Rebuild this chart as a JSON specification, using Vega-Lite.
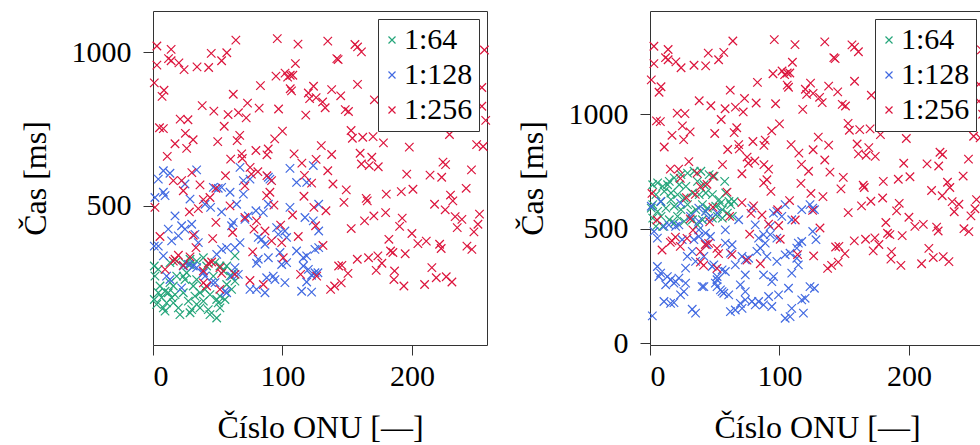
{
"$schema":"https://vega.github.io/schema/vega-lite/v6.json",
"padding":{"left":18,"top":10,"right":0,"bottom":0},
"config":{
 "font":"Liberation Serif",
 "view":{"stroke":"#333","strokeWidth":1},
 "axis":{"grid":false,"domain":false,"tickColor":"#333","tickSize":10,"tickWidth":1,"labelFontSize":30,"titleFontSize":32,"labelColor":"#000","titleColor":"#000","titleFontWeight":"normal","labelFont":"Liberation Serif","titleFont":"Liberation Serif","format":"d"},
 "legend":{"labelFont":"Liberation Serif","labelFontSize":30,"labelColor":"#000","fillColor":"#fff","strokeColor":"#333","strokeWidth":1,"padding":6,"rowPadding":5,"offset":8,"symbolType":"M-1,-1L1,1M-1,1L1,-1","symbolSize":49,"symbolStrokeWidth":1.2,"symbolOffset":-7,"labelAlign":"left","labelOffset":-3,"labelBaseline":"middle","labelExpr":"datum.label == '1:64' ? '\u2002\u00a01:64\u00a0' : datum.label + '\u00a0'"},
 "concat":{"spacing":22}
},
"datasets":{
"a":[
{"g":"1:64","x":1,"y":304},{"g":"1:64","x":4.1,"y":293},{"g":"1:64","x":5.4,"y":239},{"g":"1:64","x":9.3,"y":222},{"g":"1:64","x":13.1,"y":250},{"g":"1:64","x":11.8,"y":217},{"g":"1:64","x":17,"y":211},{"g":"1:64","x":18.3,"y":271},{"g":"1:64","x":23.4,"y":271},{"g":"1:64","x":24.7,"y":260},{"g":"1:64","x":26,"y":282},{"g":"1:64","x":28.6,"y":309},{"g":"1:64","x":33.7,"y":320},{"g":"1:64","x":38.9,"y":331},{"g":"1:64","x":41.4,"y":304},{"g":"1:64","x":47.9,"y":315},{"g":"1:64","x":51.7,"y":304},{"g":"1:64","x":54.3,"y":288},{"g":"1:64","x":59.5,"y":271},{"g":"1:64","x":63.3,"y":255},{"g":"1:64","x":60.7,"y":228},{"g":"1:64","x":51.7,"y":206},{"g":"1:64","x":49.2,"y":195},{"g":"1:64","x":55.6,"y":195},{"g":"1:64","x":38.9,"y":190},{"g":"1:64","x":33.7,"y":179},{"g":"1:64","x":36.3,"y":168},{"g":"1:64","x":29.9,"y":162},{"g":"1:64","x":28.6,"y":152},{"g":"1:64","x":20.8,"y":146},{"g":"1:64","x":9.3,"y":157},{"g":"1:64","x":8,"y":168},{"g":"1:64","x":2.8,"y":179},{"g":"1:64","x":1,"y":195},{"g":"1:64","x":14.4,"y":201},{"g":"1:64","x":15.7,"y":184},{"g":"1:64","x":27.3,"y":190},{"g":"1:64","x":31.1,"y":239},{"g":"1:64","x":33.7,"y":260},{"g":"1:64","x":40.2,"y":228},{"g":"1:64","x":44,"y":211},{"g":"1:64","x":13.1,"y":315},{"g":"1:64","x":24.7,"y":315},{"g":"1:64","x":28.6,"y":326},{"g":"1:64","x":50.4,"y":184},{"g":"1:64","x":44,"y":146},{"g":"1:64","x":49.2,"y":135},{"g":"1:64","x":62,"y":282},{"g":"1:64","x":63.3,"y":337},{"g":"1:64","x":18.3,"y":320},{"g":"1:64","x":1.5,"y":271},{"g":"1:64","x":4.1,"y":217},{"g":"1:64","x":10.5,"y":184},{"g":"1:64","x":19.6,"y":168},{"g":"1:64","x":32.4,"y":206},{"g":"1:64","x":36.3,"y":217},{"g":"1:64","x":46.6,"y":271},{"g":"1:64","x":56.9,"y":244},{"g":"1:64","x":6.7,"y":201},{"g":"1:64","x":23.4,"y":217},{"g":"1:64","x":51.7,"y":168},{"g":"1:64","x":42.7,"y":162},{"g":"1:64","x":15.7,"y":239},{"g":"1:64","x":56.9,"y":304},
{"g":"1:128","x":4.1,"y":587},{"g":"1:128","x":69.8,"y":582},{"g":"1:128","x":74.9,"y":587},{"g":"1:128","x":89.1,"y":593},{"g":"1:128","x":90.3,"y":587},{"g":"1:128","x":110.9,"y":576},{"g":"1:128","x":118.7,"y":576},{"g":"1:128","x":1.5,"y":527},{"g":"1:128","x":8,"y":544},{"g":"1:128","x":9.3,"y":533},{"g":"1:128","x":28.6,"y":522},{"g":"1:128","x":24.7,"y":571},{"g":"1:128","x":46.6,"y":560},{"g":"1:128","x":50.4,"y":557},{"g":"1:128","x":44.5,"y":495},{"g":"1:128","x":40.2,"y":505},{"g":"1:128","x":53,"y":480},{"g":"1:128","x":59.5,"y":544},{"g":"1:128","x":69.8,"y":538},{"g":"1:128","x":64.6,"y":505},{"g":"1:128","x":73.6,"y":467},{"g":"1:128","x":71,"y":456},{"g":"1:128","x":79.5,"y":484},{"g":"1:128","x":85.2,"y":478},{"g":"1:128","x":89.1,"y":505},{"g":"1:128","x":105.8,"y":495},{"g":"1:128","x":117.4,"y":462},{"g":"1:128","x":123.8,"y":451},{"g":"1:128","x":125.1,"y":358},{"g":"1:128","x":17,"y":467},{"g":"1:128","x":11.8,"y":424},{"g":"1:128","x":22.1,"y":435},{"g":"1:128","x":24.7,"y":424},{"g":"1:128","x":29.9,"y":440},{"g":"1:128","x":32.4,"y":407},{"g":"1:128","x":35,"y":380},{"g":"1:128","x":19.6,"y":402},{"g":"1:128","x":14.4,"y":386},{"g":"1:128","x":4.1,"y":369},{"g":"1:128","x":1,"y":369},{"g":"1:128","x":8,"y":337},{"g":"1:128","x":49.2,"y":342},{"g":"1:128","x":53,"y":358},{"g":"1:128","x":56.9,"y":364},{"g":"1:128","x":63.3,"y":364},{"g":"1:128","x":67.2,"y":380},{"g":"1:128","x":60.7,"y":435},{"g":"1:128","x":62,"y":446},{"g":"1:128","x":81.3,"y":397},{"g":"1:128","x":83.9,"y":391},{"g":"1:128","x":86.5,"y":375},{"g":"1:128","x":95.5,"y":429},{"g":"1:128","x":101.9,"y":418},{"g":"1:128","x":103.2,"y":397},{"g":"1:128","x":96.8,"y":407},{"g":"1:128","x":110.9,"y":353},{"g":"1:128","x":116.1,"y":331},{"g":"1:128","x":118.7,"y":337},{"g":"1:128","x":81.3,"y":326},{"g":"1:128","x":80,"y":313},{"g":"1:128","x":89.1,"y":331},{"g":"1:128","x":98.1,"y":348},{"g":"1:128","x":99.4,"y":309},{"g":"1:128","x":103.2,"y":315},{"g":"1:128","x":116.1,"y":304},{"g":"1:128","x":120,"y":293},{"g":"1:128","x":122.5,"y":274},{"g":"1:128","x":125.1,"y":282},{"g":"1:128","x":118.7,"y":252},{"g":"1:128","x":114.8,"y":222},{"g":"1:128","x":122.5,"y":219},{"g":"1:128","x":74.9,"y":228},{"g":"1:128","x":80,"y":228},{"g":"1:128","x":86.5,"y":217},{"g":"1:128","x":87.8,"y":266},{"g":"1:128","x":92.9,"y":271},{"g":"1:128","x":94.2,"y":260},{"g":"1:128","x":101.9,"y":250},{"g":"1:128","x":63.3,"y":299},{"g":"1:128","x":60.7,"y":271},{"g":"1:128","x":65.9,"y":277},{"g":"1:128","x":56.9,"y":217},{"g":"1:128","x":55.6,"y":222},{"g":"1:128","x":47.9,"y":250},{"g":"1:128","x":45.3,"y":250},{"g":"1:128","x":38.9,"y":282},{"g":"1:128","x":40.2,"y":271},{"g":"1:128","x":23.4,"y":304},{"g":"1:128","x":10.5,"y":271},{"g":"1:128","x":13.1,"y":260},{"g":"1:128","x":22.1,"y":233},{"g":"1:128","x":27.3,"y":309},{"g":"1:128","x":31.1,"y":304},{"g":"1:128","x":33.7,"y":299},{"g":"1:128","x":53,"y":560},{"g":"1:128","x":8,"y":614},{"g":"1:128","x":33.7,"y":617},{"g":"1:128","x":67.2,"y":625},{"g":"1:128","x":105.8,"y":622},{"g":"1:128","x":123.8,"y":631},{"g":"1:128","x":13.1,"y":606},{"g":"1:128","x":128,"y":505},{"g":"1:128","x":128,"y":418},{"g":"1:128","x":128,"y":364},{"g":"1:128","x":127.4,"y":282},
{"g":"1:256","x":3,"y":1020},{"g":"1:256","x":14,"y":1009},{"g":"1:256","x":3,"y":958},{"g":"1:256","x":12,"y":979},{"g":"1:256","x":14,"y":972},{"g":"1:256","x":20,"y":965},{"g":"1:256","x":24,"y":943},{"g":"1:256","x":34,"y":952},{"g":"1:256","x":43,"y":950},{"g":"1:256","x":45,"y":996},{"g":"1:256","x":53,"y":972},{"g":"1:256","x":57,"y":998},{"g":"1:256","x":64,"y":1039},{"g":"1:256","x":96,"y":1044},{"g":"1:256","x":112,"y":1026},{"g":"1:256","x":110,"y":963},{"g":"1:256","x":95,"y":922},{"g":"1:256","x":102,"y":932},{"g":"1:256","x":104,"y":919},{"g":"1:256","x":106,"y":925},{"g":"1:256","x":108,"y":925},{"g":"1:256","x":1,"y":900},{"g":"1:256","x":8.5,"y":876},{"g":"1:256","x":7,"y":856},{"g":"1:256","x":62,"y":863},{"g":"1:256","x":83,"y":891},{"g":"1:256","x":106,"y":881},{"g":"1:256","x":107,"y":874},{"g":"1:256","x":124,"y":889},{"g":"1:256","x":120,"y":867},{"g":"1:256","x":121,"y":849},{"g":"1:256","x":126,"y":852},{"g":"1:256","x":38,"y":826},{"g":"1:256","x":47,"y":808},{"g":"1:256","x":58,"y":797},{"g":"1:256","x":66,"y":803},{"g":"1:256","x":72,"y":786},{"g":"1:256","x":73,"y":834},{"g":"1:256","x":82,"y":818},{"g":"1:256","x":97,"y":815},{"g":"1:256","x":118,"y":795},{"g":"1:256","x":21,"y":782},{"g":"1:256","x":27,"y":780},{"g":"1:256","x":5,"y":754},{"g":"1:256","x":8,"y":751},{"g":"1:256","x":55,"y":759},{"g":"1:256","x":25,"y":736},{"g":"1:256","x":31,"y":715},{"g":"1:256","x":17,"y":702},{"g":"1:256","x":26,"y":687},{"g":"1:256","x":50,"y":709},{"g":"1:256","x":67,"y":729},{"g":"1:256","x":65,"y":712},{"g":"1:256","x":100,"y":743},{"g":"1:256","x":94,"y":718},{"g":"1:256","x":11,"y":661},{"g":"1:256","x":60,"y":652},{"g":"1:256","x":68.5,"y":669},{"g":"1:256","x":69,"y":654},{"g":"1:256","x":79.5,"y":680},{"g":"1:256","x":89,"y":685},{"g":"1:256","x":88,"y":666},{"g":"1:256","x":109,"y":669},{"g":"1:256","x":115,"y":639},{"g":"1:256","x":126,"y":651},{"g":"1:256","x":30,"y":608},{"g":"1:256","x":56,"y":598},{"g":"1:256","x":75,"y":625},{"g":"1:256","x":76,"y":603},{"g":"1:256","x":81,"y":611},{"g":"1:256","x":88,"y":598},{"g":"1:256","x":117,"y":599},
{"g":"1:256","x":135,"y":1036},{"g":"1:256","x":156,"y":1025},{"g":"1:256","x":158,"y":1017},{"g":"1:256","x":161,"y":1001},{"g":"1:256","x":142,"y":979},{"g":"1:256","x":143,"y":976},{"g":"1:256","x":158,"y":895},{"g":"1:256","x":138,"y":878},{"g":"1:256","x":145,"y":858},{"g":"1:256","x":131,"y":838},{"g":"1:256","x":133,"y":819},{"g":"1:256","x":148.5,"y":813},{"g":"1:256","x":151,"y":807},{"g":"1:256","x":171,"y":845},{"g":"1:256","x":153,"y":745},{"g":"1:256","x":154,"y":720},{"g":"1:256","x":162,"y":723},{"g":"1:256","x":170,"y":725},{"g":"1:256","x":178,"y":705},{"g":"1:256","x":130,"y":696},{"g":"1:256","x":138,"y":667},{"g":"1:256","x":160,"y":671},{"g":"1:256","x":169,"y":658},{"g":"1:256","x":161,"y":636},{"g":"1:256","x":167,"y":631},{"g":"1:256","x":174,"y":627},{"g":"1:256","x":135,"y":614},{"g":"1:256","x":198,"y":691},{"g":"1:256","x":196,"y":603},{"g":"1:256","x":214,"y":600},{"g":"1:256","x":224,"y":642},{"g":"1:256","x":226,"y":634},{"g":"1:256","x":246,"y":617},{"g":"1:256","x":223,"y":593},{"g":"1:256","x":250,"y":699},{"g":"1:256","x":255,"y":693},{"g":"1:256","x":256,"y":1007},{"g":"1:256","x":254,"y":885},{"g":"1:256","x":257,"y":778},{"g":"1:256","x":229,"y":732},{"g":"1:256","x":254,"y":824},
{"g":"1:256","x":15.7,"y":582},{"g":"1:256","x":22.1,"y":582},{"g":"1:256","x":23.4,"y":549},{"g":"1:256","x":36.3,"y":568},{"g":"1:256","x":48.6,"y":557},{"g":"1:256","x":71,"y":565},{"g":"1:256","x":91.6,"y":582},{"g":"1:256","x":87.8,"y":533},{"g":"1:256","x":90.3,"y":544},{"g":"1:256","x":93.4,"y":502},{"g":"1:256","x":122.5,"y":574},{"g":"1:256","x":116.6,"y":531},{"g":"1:256","x":1.5,"y":495},{"g":"1:256","x":28.1,"y":480},{"g":"1:256","x":35,"y":491},{"g":"1:256","x":38.9,"y":520},{"g":"1:256","x":44,"y":527},{"g":"1:256","x":59.5,"y":500},{"g":"1:256","x":48.6,"y":446},{"g":"1:256","x":71,"y":462},{"g":"1:256","x":80,"y":451},{"g":"1:256","x":78,"y":424},{"g":"1:256","x":86.5,"y":418},{"g":"1:256","x":91.6,"y":386},{"g":"1:256","x":98.6,"y":437},{"g":"1:256","x":99.4,"y":380},{"g":"1:256","x":107.8,"y":470},{"g":"1:256","x":112.2,"y":400},{"g":"1:256","x":124.3,"y":495},{"g":"1:256","x":125.6,"y":435},{"g":"1:256","x":5.4,"y":400},{"g":"1:256","x":31.1,"y":404},{"g":"1:256","x":33.2,"y":364},{"g":"1:256","x":46.1,"y":393},{"g":"1:256","x":61.5,"y":413},{"g":"1:256","x":77,"y":350},{"g":"1:256","x":100.6,"y":331},{"g":"1:256","x":114,"y":277},{"g":"1:256","x":126.4,"y":271},{"g":"1:256","x":15.7,"y":320},{"g":"1:256","x":19.6,"y":339},{"g":"1:256","x":28.6,"y":334},{"g":"1:256","x":9.3,"y":293},{"g":"1:256","x":38.9,"y":288},{"g":"1:256","x":42.7,"y":313},{"g":"1:256","x":45.3,"y":317},{"g":"1:256","x":51.7,"y":299},{"g":"1:256","x":53,"y":280},{"g":"1:256","x":63.3,"y":277},{"g":"1:256","x":38.9,"y":249},{"g":"1:256","x":41.4,"y":239},{"g":"1:256","x":51.7,"y":228},{"g":"1:256","x":74.9,"y":257},{"g":"1:256","x":85.2,"y":244},{"g":"1:256","x":17,"y":326},{"g":"1:256","x":23.4,"y":306},
{"g":"1:256","x":139,"y":571},{"g":"1:256","x":149.3,"y":552},{"g":"1:256","x":147.5,"y":511},{"g":"1:256","x":164.7,"y":524},{"g":"1:256","x":165.5,"y":516},{"g":"1:256","x":180.2,"y":538},{"g":"1:256","x":191.8,"y":546},{"g":"1:256","x":200.8,"y":554},{"g":"1:256","x":241.9,"y":557},{"g":"1:256","x":229.8,"y":535},{"g":"1:256","x":231.6,"y":516},{"g":"1:256","x":217.5,"y":505},{"g":"1:256","x":225.7,"y":487},{"g":"1:256","x":133.6,"y":484},{"g":"1:256","x":153.1,"y":426},{"g":"1:256","x":163.4,"y":451},{"g":"1:256","x":170.6,"y":467},{"g":"1:256","x":179.7,"y":478},{"g":"1:256","x":192.5,"y":460},{"g":"1:256","x":190.5,"y":433},{"g":"1:256","x":200,"y":410},{"g":"1:256","x":204.6,"y":377},{"g":"1:256","x":211.1,"y":385},{"g":"1:256","x":221.4,"y":375},{"g":"1:256","x":222.6,"y":361},{"g":"1:256","x":233.4,"y":465},{"g":"1:256","x":238.6,"y":456},{"g":"1:256","x":235,"y":429},{"g":"1:256","x":247.9,"y":415},{"g":"1:256","x":251,"y":440},{"g":"1:256","x":252.2,"y":473},{"g":"1:256","x":242.5,"y":369},{"g":"1:256","x":246.3,"y":358},{"g":"1:256","x":182.2,"y":391},{"g":"1:256","x":183.5,"y":353},{"g":"1:256","x":185.3,"y":348},{"g":"1:256","x":194.8,"y":344},{"g":"1:256","x":157.8,"y":326},{"g":"1:256","x":166.5,"y":331},{"g":"1:256","x":173.7,"y":337},{"g":"1:256","x":176.8,"y":313},{"g":"1:256","x":172.4,"y":290},{"g":"1:256","x":186.6,"y":288},{"g":"1:256","x":186.1,"y":260},{"g":"1:256","x":193.8,"y":239},{"g":"1:256","x":143.4,"y":304},{"g":"1:256","x":145.9,"y":306},{"g":"1:256","x":150.6,"y":280},{"g":"1:256","x":145.4,"y":249},{"g":"1:256","x":140.3,"y":239},{"g":"1:256","x":137.2,"y":228},{"g":"1:256","x":215.4,"y":299},{"g":"1:256","x":218.8,"y":266},{"g":"1:256","x":226.5,"y":269},{"g":"1:256","x":230.9,"y":252},{"g":"1:256","x":209.8,"y":244},{"g":"1:256","x":131.3,"y":371}
],
"b":[
{"g":"1:64","x":2.1,"y":693},{"g":"1:64","x":5.9,"y":701},{"g":"1:64","x":9.8,"y":686},{"g":"1:64","x":14.9,"y":708},{"g":"1:64","x":18.7,"y":723},{"g":"1:64","x":23.9,"y":737},{"g":"1:64","x":29,"y":744},{"g":"1:64","x":34.1,"y":752},{"g":"1:64","x":39.3,"y":752},{"g":"1:64","x":45.7,"y":737},{"g":"1:64","x":49.5,"y":730},{"g":"1:64","x":4.6,"y":650},{"g":"1:64","x":11,"y":664},{"g":"1:64","x":16.2,"y":657},{"g":"1:64","x":21.3,"y":650},{"g":"1:64","x":26.4,"y":635},{"g":"1:64","x":32.8,"y":657},{"g":"1:64","x":38,"y":650},{"g":"1:64","x":43.1,"y":657},{"g":"1:64","x":48.2,"y":650},{"g":"1:64","x":53.4,"y":628},{"g":"1:64","x":57.7,"y":708},{"g":"1:64","x":58.5,"y":657},{"g":"1:64","x":64.9,"y":620},{"g":"1:64","x":62.3,"y":606},{"g":"1:64","x":2.1,"y":606},{"g":"1:64","x":5.9,"y":577},{"g":"1:64","x":12.3,"y":591},{"g":"1:64","x":18.7,"y":599},{"g":"1:64","x":23.9,"y":584},{"g":"1:64","x":29,"y":606},{"g":"1:64","x":35.4,"y":584},{"g":"1:64","x":40.5,"y":606},{"g":"1:64","x":44.4,"y":591},{"g":"1:64","x":50.8,"y":599},{"g":"1:64","x":55.9,"y":584},{"g":"1:64","x":59.8,"y":569},{"g":"1:64","x":63.6,"y":555},{"g":"1:64","x":52.1,"y":555},{"g":"1:64","x":2.1,"y":547},{"g":"1:64","x":8.5,"y":555},{"g":"1:64","x":14.9,"y":540},{"g":"1:64","x":21.3,"y":555},{"g":"1:64","x":26.4,"y":533},{"g":"1:64","x":32.8,"y":540},{"g":"1:64","x":36.7,"y":518},{"g":"1:64","x":4.6,"y":511},{"g":"1:64","x":9.8,"y":511},{"g":"1:64","x":18.7,"y":526},{"g":"1:64","x":43.1,"y":577},{"g":"1:64","x":54.6,"y":613},{"g":"1:64","x":48.2,"y":547},{"g":"1:64","x":40.5,"y":540},{"g":"1:64","x":31.6,"y":569},{"g":"1:64","x":1,"y":591},{"g":"1:64","x":16.2,"y":628},{"g":"1:64","x":27.7,"y":686},{"g":"1:64","x":41.8,"y":693},{"g":"1:64","x":22.6,"y":693},{"g":"1:64","x":8.5,"y":620},{"g":"1:64","x":13.6,"y":693},{"g":"1:64","x":55.9,"y":547},{"g":"1:64","x":61,"y":620},{"g":"1:64","x":36.7,"y":708},
{"g":"1:128","x":8.2,"y":620},{"g":"1:128","x":1,"y":599},{"g":"1:128","x":23.6,"y":613},{"g":"1:128","x":37.7,"y":591},{"g":"1:128","x":42.9,"y":577},{"g":"1:128","x":31.3,"y":555},{"g":"1:128","x":37.7,"y":533},{"g":"1:128","x":45.4,"y":548},{"g":"1:128","x":51.8,"y":569},{"g":"1:128","x":58.2,"y":496},{"g":"1:128","x":68.5,"y":540},{"g":"1:128","x":78.7,"y":591},{"g":"1:128","x":81.3,"y":518},{"g":"1:128","x":87.7,"y":475},{"g":"1:128","x":92.9,"y":511},{"g":"1:128","x":95.4,"y":569},{"g":"1:128","x":98,"y":577},{"g":"1:128","x":101.8,"y":555},{"g":"1:128","x":104.4,"y":606},{"g":"1:128","x":109.5,"y":540},{"g":"1:128","x":117.2,"y":584},{"g":"1:128","x":123.6,"y":606},{"g":"1:128","x":3.1,"y":489},{"g":"1:128","x":5.7,"y":460},{"g":"1:128","x":10.8,"y":511},{"g":"1:128","x":14.6,"y":518},{"g":"1:128","x":19.8,"y":511},{"g":"1:128","x":22.3,"y":518},{"g":"1:128","x":24.9,"y":453},{"g":"1:128","x":33.9,"y":453},{"g":"1:128","x":37.7,"y":496},{"g":"1:128","x":42.9,"y":482},{"g":"1:128","x":46.7,"y":467},{"g":"1:128","x":32.6,"y":402},{"g":"1:128","x":28.8,"y":380},{"g":"1:128","x":41.6,"y":380},{"g":"1:128","x":44.1,"y":431},{"g":"1:128","x":35.2,"y":358},{"g":"1:128","x":49.3,"y":343},{"g":"1:128","x":58.2,"y":438},{"g":"1:128","x":63.4,"y":431},{"g":"1:128","x":62.1,"y":394},{"g":"1:128","x":71.1,"y":380},{"g":"1:128","x":73.6,"y":365},{"g":"1:128","x":76.2,"y":372},{"g":"1:128","x":65.9,"y":343},{"g":"1:128","x":58.2,"y":314},{"g":"1:128","x":55.7,"y":321},{"g":"1:128","x":51.8,"y":292},{"g":"1:128","x":48,"y":336},{"g":"1:128","x":51.8,"y":278},{"g":"1:128","x":50.5,"y":263},{"g":"1:128","x":41.6,"y":248},{"g":"1:128","x":55.7,"y":226},{"g":"1:128","x":60.8,"y":212},{"g":"1:128","x":54.4,"y":234},{"g":"1:128","x":73.6,"y":299},{"g":"1:128","x":69.8,"y":256},{"g":"1:128","x":73.6,"y":226},{"g":"1:128","x":87.7,"y":299},{"g":"1:128","x":95.4,"y":292},{"g":"1:128","x":94.1,"y":270},{"g":"1:128","x":90.3,"y":380},{"g":"1:128","x":98,"y":358},{"g":"1:128","x":85.2,"y":416},{"g":"1:128","x":82.6,"y":402},{"g":"1:128","x":83.9,"y":460},{"g":"1:128","x":89,"y":438},{"g":"1:128","x":92.9,"y":475},{"g":"1:128","x":98,"y":460},{"g":"1:128","x":104.4,"y":387},{"g":"1:128","x":108.2,"y":394},{"g":"1:128","x":113.4,"y":416},{"g":"1:128","x":114.6,"y":438},{"g":"1:128","x":117.2,"y":445},{"g":"1:128","x":113.4,"y":372},{"g":"1:128","x":114.6,"y":343},{"g":"1:128","x":109.5,"y":307},{"g":"1:128","x":107,"y":241},{"g":"1:128","x":99.3,"y":212},{"g":"1:128","x":91.6,"y":205},{"g":"1:128","x":83.9,"y":183},{"g":"1:128","x":81.3,"y":168},{"g":"1:128","x":87.7,"y":168},{"g":"1:128","x":94.1,"y":161},{"g":"1:128","x":73.6,"y":190},{"g":"1:128","x":78.7,"y":183},{"g":"1:128","x":69.8,"y":175},{"g":"1:128","x":71.1,"y":153},{"g":"1:128","x":65.9,"y":146},{"g":"1:128","x":62.1,"y":139},{"g":"1:128","x":57,"y":219},{"g":"1:128","x":51.8,"y":248},{"g":"1:128","x":40.3,"y":248},{"g":"1:128","x":26.2,"y":226},{"g":"1:128","x":23.6,"y":212},{"g":"1:128","x":27.5,"y":263},{"g":"1:128","x":22.3,"y":285},{"g":"1:128","x":19.8,"y":270},{"g":"1:128","x":15.9,"y":278},{"g":"1:128","x":13.4,"y":292},{"g":"1:128","x":12.1,"y":256},{"g":"1:128","x":18.5,"y":263},{"g":"1:128","x":8.2,"y":307},{"g":"1:128","x":5.7,"y":336},{"g":"1:128","x":10.8,"y":183},{"g":"1:128","x":15.9,"y":175},{"g":"1:128","x":18.5,"y":178},{"g":"1:128","x":32.6,"y":149},{"g":"1:128","x":35.2,"y":132},{"g":"1:128","x":1.8,"y":120},{"g":"1:128","x":104.4,"y":110},{"g":"1:128","x":108.2,"y":117},{"g":"1:128","x":118.5,"y":132},{"g":"1:128","x":109.5,"y":153},{"g":"1:128","x":117.2,"y":190},{"g":"1:128","x":119.8,"y":197},{"g":"1:128","x":123.6,"y":248},{"g":"1:128","x":37.7,"y":467},{"g":"1:128","x":6.9,"y":292},{"g":"1:128","x":27.5,"y":329},{"g":"1:128","x":125.7,"y":591},{"g":"1:128","x":127,"y":584},{"g":"1:128","x":125.7,"y":489},{"g":"1:128","x":128.2,"y":453},{"g":"1:128","x":127,"y":241},
{"g":"1:256","x":3,"y":1298},{"g":"1:256","x":14,"y":1284},{"g":"1:256","x":3,"y":1222},{"g":"1:256","x":12,"y":1248},{"g":"1:256","x":14,"y":1239},{"g":"1:256","x":20,"y":1230},{"g":"1:256","x":24,"y":1204},{"g":"1:256","x":34,"y":1215},{"g":"1:256","x":43,"y":1212},{"g":"1:256","x":45,"y":1268},{"g":"1:256","x":53,"y":1239},{"g":"1:256","x":57,"y":1271},{"g":"1:256","x":64,"y":1321},{"g":"1:256","x":96,"y":1327},{"g":"1:256","x":112,"y":1305},{"g":"1:256","x":110,"y":1228},{"g":"1:256","x":95,"y":1178},{"g":"1:256","x":102,"y":1190},{"g":"1:256","x":104,"y":1174},{"g":"1:256","x":106,"y":1181},{"g":"1:256","x":108,"y":1181},{"g":"1:256","x":1,"y":1151},{"g":"1:256","x":8.5,"y":1121},{"g":"1:256","x":7,"y":1097},{"g":"1:256","x":62,"y":1106},{"g":"1:256","x":83,"y":1140},{"g":"1:256","x":106,"y":1128},{"g":"1:256","x":107,"y":1119},{"g":"1:256","x":124,"y":1137},{"g":"1:256","x":120,"y":1110},{"g":"1:256","x":121,"y":1088},{"g":"1:256","x":126,"y":1092},{"g":"1:256","x":38,"y":1060},{"g":"1:256","x":47,"y":1038},{"g":"1:256","x":58,"y":1025},{"g":"1:256","x":66,"y":1032},{"g":"1:256","x":72,"y":1011},{"g":"1:256","x":73,"y":1070},{"g":"1:256","x":82,"y":1050},{"g":"1:256","x":97,"y":1047},{"g":"1:256","x":118,"y":1022},{"g":"1:256","x":21,"y":1006},{"g":"1:256","x":27,"y":1004},{"g":"1:256","x":5,"y":972},{"g":"1:256","x":8,"y":969},{"g":"1:256","x":55,"y":978},{"g":"1:256","x":25,"y":950},{"g":"1:256","x":31,"y":924},{"g":"1:256","x":17,"y":909},{"g":"1:256","x":26,"y":890},{"g":"1:256","x":50,"y":917},{"g":"1:256","x":67,"y":942},{"g":"1:256","x":65,"y":921},{"g":"1:256","x":100,"y":959},{"g":"1:256","x":94,"y":928},{"g":"1:256","x":11,"y":858},{"g":"1:256","x":60,"y":847},{"g":"1:256","x":68.5,"y":868},{"g":"1:256","x":69,"y":850},{"g":"1:256","x":79.5,"y":882},{"g":"1:256","x":89,"y":888},{"g":"1:256","x":88,"y":865},{"g":"1:256","x":109,"y":868},{"g":"1:256","x":115,"y":831},{"g":"1:256","x":126,"y":846},{"g":"1:256","x":30,"y":794},{"g":"1:256","x":56,"y":781},{"g":"1:256","x":75,"y":814},{"g":"1:256","x":76,"y":787},{"g":"1:256","x":81,"y":797},{"g":"1:256","x":88,"y":781},{"g":"1:256","x":117,"y":782},
{"g":"1:256","x":135,"y":1317},{"g":"1:256","x":156,"y":1304},{"g":"1:256","x":158,"y":1294},{"g":"1:256","x":161,"y":1274},{"g":"1:256","x":142,"y":1248},{"g":"1:256","x":143,"y":1244},{"g":"1:256","x":158,"y":1145},{"g":"1:256","x":138,"y":1124},{"g":"1:256","x":145,"y":1099},{"g":"1:256","x":131,"y":1075},{"g":"1:256","x":133,"y":1052},{"g":"1:256","x":148.5,"y":1044},{"g":"1:256","x":151,"y":1037},{"g":"1:256","x":171,"y":1084},{"g":"1:256","x":153,"y":961},{"g":"1:256","x":154,"y":931},{"g":"1:256","x":162,"y":934},{"g":"1:256","x":170,"y":937},{"g":"1:256","x":178,"y":912},{"g":"1:256","x":130,"y":901},{"g":"1:256","x":138,"y":866},{"g":"1:256","x":160,"y":871},{"g":"1:256","x":169,"y":855},{"g":"1:256","x":161,"y":828},{"g":"1:256","x":167,"y":822},{"g":"1:256","x":174,"y":817},{"g":"1:256","x":135,"y":801},{"g":"1:256","x":198,"y":895},{"g":"1:256","x":196,"y":787},{"g":"1:256","x":214,"y":784},{"g":"1:256","x":224,"y":835},{"g":"1:256","x":226,"y":825},{"g":"1:256","x":246,"y":805},{"g":"1:256","x":223,"y":775},{"g":"1:256","x":250,"y":905},{"g":"1:256","x":255,"y":898},{"g":"1:256","x":256,"y":1282},{"g":"1:256","x":254,"y":1132},{"g":"1:256","x":257,"y":1001},{"g":"1:256","x":229,"y":945},{"g":"1:256","x":254,"y":1058},
{"g":"1:256","x":15.7,"y":761},{"g":"1:256","x":22.1,"y":761},{"g":"1:256","x":23.4,"y":721},{"g":"1:256","x":36.3,"y":744},{"g":"1:256","x":48.6,"y":731},{"g":"1:256","x":71,"y":741},{"g":"1:256","x":91.6,"y":761},{"g":"1:256","x":87.8,"y":701},{"g":"1:256","x":90.3,"y":715},{"g":"1:256","x":93.4,"y":664},{"g":"1:256","x":122.5,"y":752},{"g":"1:256","x":116.6,"y":699},{"g":"1:256","x":1.5,"y":655},{"g":"1:256","x":28.1,"y":637},{"g":"1:256","x":35,"y":651},{"g":"1:256","x":38.9,"y":685},{"g":"1:256","x":44,"y":695},{"g":"1:256","x":59.5,"y":661},{"g":"1:256","x":48.6,"y":595},{"g":"1:256","x":71,"y":615},{"g":"1:256","x":80,"y":601},{"g":"1:256","x":78,"y":568},{"g":"1:256","x":86.5,"y":561},{"g":"1:256","x":91.6,"y":521},{"g":"1:256","x":98.6,"y":584},{"g":"1:256","x":99.4,"y":515},{"g":"1:256","x":107.8,"y":624},{"g":"1:256","x":112.2,"y":539},{"g":"1:256","x":124.3,"y":655},{"g":"1:256","x":125.6,"y":581},{"g":"1:256","x":5.4,"y":539},{"g":"1:256","x":31.1,"y":544},{"g":"1:256","x":33.2,"y":495},{"g":"1:256","x":46.1,"y":531},{"g":"1:256","x":61.5,"y":555},{"g":"1:256","x":77,"y":477},{"g":"1:256","x":100.6,"y":455},{"g":"1:256","x":114,"y":388},{"g":"1:256","x":126.4,"y":382},{"g":"1:256","x":15.7,"y":441},{"g":"1:256","x":19.6,"y":464},{"g":"1:256","x":28.6,"y":459},{"g":"1:256","x":9.3,"y":408},{"g":"1:256","x":38.9,"y":401},{"g":"1:256","x":42.7,"y":432},{"g":"1:256","x":45.3,"y":437},{"g":"1:256","x":51.7,"y":415},{"g":"1:256","x":53,"y":392},{"g":"1:256","x":63.3,"y":388},{"g":"1:256","x":38.9,"y":355},{"g":"1:256","x":41.4,"y":341},{"g":"1:256","x":51.7,"y":328},{"g":"1:256","x":74.9,"y":364},{"g":"1:256","x":85.2,"y":348},{"g":"1:256","x":17,"y":448},{"g":"1:256","x":23.4,"y":424},
{"g":"1:256","x":139,"y":748},{"g":"1:256","x":149.3,"y":725},{"g":"1:256","x":147.5,"y":675},{"g":"1:256","x":164.7,"y":691},{"g":"1:256","x":165.5,"y":681},{"g":"1:256","x":180.2,"y":708},{"g":"1:256","x":191.8,"y":717},{"g":"1:256","x":200.8,"y":728},{"g":"1:256","x":241.9,"y":731},{"g":"1:256","x":229.8,"y":704},{"g":"1:256","x":231.6,"y":681},{"g":"1:256","x":217.5,"y":668},{"g":"1:256","x":225.7,"y":645},{"g":"1:256","x":133.6,"y":641},{"g":"1:256","x":153.1,"y":571},{"g":"1:256","x":163.4,"y":601},{"g":"1:256","x":170.6,"y":621},{"g":"1:256","x":179.7,"y":635},{"g":"1:256","x":192.5,"y":612},{"g":"1:256","x":190.5,"y":579},{"g":"1:256","x":200,"y":551},{"g":"1:256","x":204.6,"y":511},{"g":"1:256","x":211.1,"y":520},{"g":"1:256","x":221.4,"y":508},{"g":"1:256","x":222.6,"y":491},{"g":"1:256","x":233.4,"y":619},{"g":"1:256","x":238.6,"y":608},{"g":"1:256","x":235,"y":575},{"g":"1:256","x":247.9,"y":557},{"g":"1:256","x":251,"y":588},{"g":"1:256","x":252.2,"y":628},{"g":"1:256","x":242.5,"y":501},{"g":"1:256","x":246.3,"y":488},{"g":"1:256","x":182.2,"y":528},{"g":"1:256","x":183.5,"y":481},{"g":"1:256","x":185.3,"y":475},{"g":"1:256","x":194.8,"y":471},{"g":"1:256","x":157.8,"y":448},{"g":"1:256","x":166.5,"y":455},{"g":"1:256","x":173.7,"y":461},{"g":"1:256","x":176.8,"y":432},{"g":"1:256","x":172.4,"y":404},{"g":"1:256","x":186.6,"y":401},{"g":"1:256","x":186.1,"y":368},{"g":"1:256","x":193.8,"y":341},{"g":"1:256","x":143.4,"y":421},{"g":"1:256","x":145.9,"y":424},{"g":"1:256","x":150.6,"y":392},{"g":"1:256","x":145.4,"y":355},{"g":"1:256","x":140.3,"y":341},{"g":"1:256","x":137.2,"y":328},{"g":"1:256","x":215.4,"y":415},{"g":"1:256","x":218.8,"y":375},{"g":"1:256","x":226.5,"y":379},{"g":"1:256","x":230.9,"y":357},{"g":"1:256","x":209.8,"y":348},{"g":"1:256","x":131.3,"y":504}
]
},
"hconcat":[
{"width":334,"height":334,"data":{"name":"a"},
 "mark":{"type":"point","shape":"M-1,-1L1,1M-1,1L1,-1","filled":false,"size":72,"strokeWidth":1.2,"opacity":1},
 "encoding":{
  "x":{"field":"x","type":"quantitative","scale":{"domain":[0,258],"nice":false,"zero":false},"axis":{"values":[0,100,200],"title":"Číslo ONU [—]","labelPadding":6,"titlePadding":21}},
  "y":{"field":"y","type":"quantitative","scale":{"domain":[47,1134],"nice":false,"zero":false},"axis":{"values":[500,1000],"title":"Čas [ms]","labelPadding":12,"titlePadding":19}},
  "color":{"field":"g","type":"nominal","sort":["1:64","1:128","1:256"],"scale":{"domain":["1:64","1:128","1:256"],"range":["#24a57a","#4169e1","#dc143c"]},"legend":{"title":null,"orient":"top-right"}}
 }},
{"width":334,"height":334,"data":{"name":"b"},
 "mark":{"type":"point","shape":"M-1,-1L1,1M-1,1L1,-1","filled":false,"size":72,"strokeWidth":1.2,"opacity":1},
 "encoding":{
  "x":{"field":"x","type":"quantitative","scale":{"domain":[0,258],"nice":false,"zero":false},"axis":{"values":[0,100,200],"title":"Číslo ONU [—]","labelPadding":6,"titlePadding":21}},
  "y":{"field":"y","type":"quantitative","scale":{"domain":[-7,1452],"nice":false,"zero":false},"axis":{"values":[0,500,1000],"title":"Čas [ms]","labelPadding":12,"titlePadding":19}},
  "color":{"field":"g","type":"nominal","sort":["1:64","1:128","1:256"],"scale":{"domain":["1:64","1:128","1:256"],"range":["#24a57a","#4169e1","#dc143c"]},"legend":{"title":null,"orient":"top-right"}}
 }}
],
"resolve":{"scale":{"color":"independent","x":"independent","y":"independent"},"legend":{"color":"independent"}}
}
